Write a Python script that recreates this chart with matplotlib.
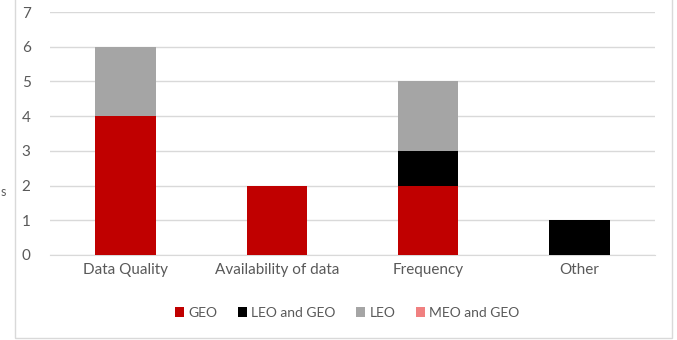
import numpy as np
import matplotlib
matplotlib.use('Agg')
import matplotlib.pyplot as plt
from matplotlib.patches import Rectangle

# ---- data ----
categories = ['Data Quality', 'Availability of data', 'Frequency', 'Other']
geo = [4, 2, 2, 0]
leo_and_geo = [0, 0, 1, 1]
leo = [2, 0, 2, 0]
meo_and_geo = [0, 0, 0, 0]

series_names = ['GEO', 'LEO and GEO', 'LEO', 'MEO and GEO']
series_colors = ['#C00000', '#000000', '#A5A5A5', '#F08080']

plt.rcParams['font.family'] = ['Lato', 'DejaVu Sans']
TEXT_COLOR = '#595959'

fig = plt.figure(figsize=(6.77, 3.4), dpi=100)
ax = fig.add_axes([0.0739, 0.25, 0.8936, 0.7147])

x = np.arange(len(categories))
bottom = np.zeros(len(categories))
for name, vals, color in zip(series_names, [geo, leo_and_geo, leo, meo_and_geo], series_colors):
    ax.bar(x, vals, width=0.4, bottom=bottom, color=color, label=name, zorder=3)
    bottom += np.array(vals)

ax.set_xlim(-0.5, len(categories) - 0.5)
ax.set_ylim(0, 7)
ax.set_yticks(range(0, 8))
ax.set_xticks(x)
ax.set_xticklabels(categories)
ax.grid(axis='y', color='#D9D9D9', linewidth=1, zorder=0)
ax.tick_params(axis='both', length=0, labelsize=11, colors=TEXT_COLOR)
ax.tick_params(axis='y', pad=14)
ax.tick_params(axis='x', pad=6)
for side in ['top', 'right', 'left']:
    ax.spines[side].set_visible(False)
ax.spines['bottom'].set_color('#D9D9D9')

# stray axis-title fragment on the far left
fig.text(0.5 / 677, 1 - 192 / 340, 's', ha='left', va='center',
         fontsize=9, color=TEXT_COLOR)

leg = fig.legend(loc='center', bbox_to_anchor=(0.513, 1 - 313 / 340), ncol=4,
                 frameon=False, fontsize=10, handlelength=0.65, handleheight=0.65,
                 handletextpad=0.3, columnspacing=1.5)
for t in leg.get_texts():
    t.set_color(TEXT_COLOR)

# chart area border
fig.patches.append(Rectangle((15 / 677, 2 / 340), 657 / 677, 1.2, transform=fig.transFigure,
                             fill=False, edgecolor='#D9D9D9', linewidth=1))

fig.savefig('out.png', dpi=100)
